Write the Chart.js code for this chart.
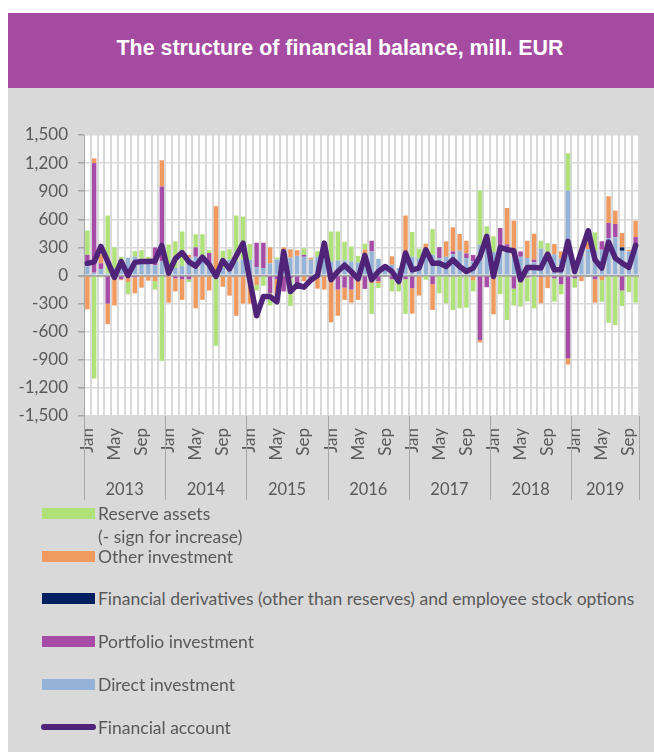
<!DOCTYPE html>
<html>
<head>
<meta charset="utf-8">
<script src="https://cdn.jsdelivr.net/npm/chart.js@4.4.1/dist/chart.umd.min.js"></script>
<style>
  body { margin:0; width:654px; height:752px; overflow:hidden; background:#fff; position:relative; font-family: Lato, sans-serif; }
  #header { position:absolute; left:8px; top:13px; width:664px; height:75px; background:#a54ca2; color:#fff;
            font: bold 21.4px "Liberation Sans", Arial, sans-serif; text-align:center; line-height:71px; }
  #panel { position:absolute; left:8px; top:88px; width:646px; height:664px; background:#d9d9d9; }
  #wrap { position:absolute; left:0; top:0; width:646px; height:420px; }
  .lg { position:absolute; left:90px; color:#595959; font-size:17.5px; line-height:23px; white-space:nowrap; }
  .sw { position:absolute; left:34px; width:53px; height:11px; }
  .ln { position:absolute; left:33px; width:55px; height:6px; border-radius:3px; }
</style>
</head>
<body>
<div id="header">The structure of financial balance, mill. EUR</div>
<div id="panel">
  <div id="wrap"><canvas id="chart" width="646" height="420"></canvas></div>
</div>
<script>
// month names and years for the x axis
const monthNames = ['Jan','Feb','Mar','Apr','May','Jun','Jul','Aug','Sep','Oct','Nov','Dec'];
const years = ['2013','2014','2015','2016','2017','2018','2019'];
const shownMonths = ['Jan','May','Sep'];

// mill. EUR, Jan 2013 - Oct 2019
const direct = [
  100, 30, 70, 20, 80, 130, 190, 200, 180, 130, 110, 150,
  30, 80, 100, 190, 200, 150, 100, 20, 80, 170, 150, 170,
  166, 90, 80, 130, 170, 180, 190, 210, 200, 170, 200, 170,
  150, 160, 160, 150, 140, 220, 257, 178, 70, 115, 80, 250,
  200, 180, 200, 220, 186, 200, 228, 264, 186, 150, 330, 320,
  250, 300, 293, 200, 200, 186, 140, 286, 220, 228, 180, 905,
  100, 280, 280, 260, 275, 400, 407, 264, 257, 321
];
const portfolio = [
  120, 1170, 60, -300, -20, -40, -10, -20, 0, 0, 190, 800,
  0, -30, -40, -40, 100, 50, 140, 0, 0, 0, 0, 0,
  0, 260, 270, -190, -40, -170, -30, -120, 20, -60, 0, 0,
  0, -150, -130, -150, 0, -143, 114, -60, 0, -40, -20, -40,
  -135, 0, 20, -93, 117, 0, 30, 0, 50, 70, -690, -125,
  0, 207, 40, -140, 57, -20, 30, -15, 0, -30, -93, -886,
  -30, 0, 0, -40, 90, 160, 143, -160, 0, 89
];
const derivatives = [
  0, 0, 0, 0, 0, 0, 0, 0, 0, 0, 0, 0,
  0, 0, 0, 0, 0, 0, 0, 0, 0, 0, 0, 0,
  0, 0, 0, 0, 0, 0, 0, 0, 0, 0, 0, 0,
  0, 0, 0, 0, 0, 0, 0, 0, 0, 0, 0, 0,
  0, 0, 0, 0, 0, 0, 0, 0, 0, 0, 0, 0,
  0, 0, 0, 0, 0, 0, 0, 0, 0, 0, 0, 0,
  0, 0, 0, 0, 0, 0, 0, 36, 0, 0
];
const other = [
  -360, 50, 90, -220, -300, -10, -60, -170, -130, -55, -60, 280,
  -290, -140, -220, 30, -350, -260, -160, 720, -120, -215, -430, -300,
  -300, -100, 0, 170, -180, 120, 90, 60, -60, 20, -140, -150,
  -500, -280, -130, -140, -260, 60, -80, -20, 0, 90, -40, 390,
  -272, -214, 120, -275, 0, 164, 256, 179, 135, -50, -24, 40,
  -414, 0, 388, 385, 0, 185, 276, -281, -135, 108, 77, -64,
  0, -60, 70, -250, -50, 286, 143, 153, 18, 175
];
const reserve = [
  260, -1100, -20, 620, 220, 70, -130, 60, 90, 70, -90, -910,
  300, 285, 370, -30, 140, 240, 30, -750, 185, 110, 490, 460,
  170, -60, -110, -130, 20, 0, -296, 0, 70, 0, 60, 160,
  320, 310, 200, 160, 70, 60, -330, -55, 20, -130, -110, -370,
  265, 105, -45, 276, -190, -296, -368, -350, -343, -120, 577, 165,
  168, -200, -475, -180, -332, -258, -350, 85, 126, -248, -107, 400,
  -100, 0, 130, 200, -230, -505, -530, -166, -178, -289
];
const financialAccount = [
  130, 145, 310, 150, -20, 150, 0, 140, 150, 150, 155, 320,
  25, 180, 245, 145, 100, 195, 115, -10, 160, 70, 210, 345,
  -50, -430, -225, -225, -280, 255, -170, -100, -125, -50, 0, 346,
  -46, 43, 110, 40, -36, 215, -46, 43, 96, 43, -64, 240,
  60, 79, 275, 132, 132, 96, 168, 96, 43, 79, 200, 418,
  -10, 300, 275, 264, -46, 86, 86, 79, 228, 61, 61, 364,
  43, 264, 478, 168, 79, 357, 186, 132, 86, 321
];

// x labels: one per month
const labels = financialAccount.map((v, i) => monthNames[i % 12]);

const datasets = [
  { label: 'Direct investment', data: direct, backgroundColor: '#95b3d7' },
  { label: 'Portfolio investment', data: portfolio, backgroundColor: '#a64ca6' },
  { label: 'Financial derivatives (other than reserves) and employee stock options', data: derivatives, backgroundColor: '#002060' },
  { label: 'Other investment', data: other, backgroundColor: '#f09a5f' },
  { label: 'Reserve assets', data: reserve, backgroundColor: '#b0e27a' }
].map(d => Object.assign(d, { type: 'bar', order: 1, barPercentage: 0.66, categoryPercentage: 1, stack: 'bars' }));

datasets.push({
  type: 'line', label: 'Financial account', data: financialAccount, order: 0, stack: 'line',
  borderColor: '#4e2378', borderWidth: 5.5, pointRadius: 0, tension: 0,
  borderJoinStyle: 'round', borderCapStyle: 'round'
});

// white plot area
const plotBg = {
  id: 'plotBg',
  beforeDraw(chart) {
    const { ctx, chartArea: a } = chart;
    ctx.save();
    ctx.fillStyle = '#ffffff';
    ctx.fillRect(a.left, a.top, a.right - a.left, a.bottom - a.top);
    ctx.restore();
  }
};

// year labels and separators under the months
const yearAxis = {
  id: 'yearAxis',
  afterDraw(chart) {
    const { ctx, chartArea: a, scales: { x } } = chart;
    const step = x.getPixelForValue(1) - x.getPixelForValue(0);
    const n = labels.length;
    ctx.save();
    ctx.strokeStyle = '#a6a6a6';
    ctx.lineWidth = 1;
    ctx.fillStyle = '#595959';
    ctx.font = '16.5px Lato';
    ctx.textAlign = 'center';
    ctx.textBaseline = 'middle';
    years.forEach((yr, k) => {
      const first = k * 12;
      const last = Math.min(first + 11, n - 1);
      const left = x.getPixelForValue(first) - step / 2;
      const right = x.getPixelForValue(last) + step / 2;
      [left, right].forEach(px => {
        const p = Math.round(px) + 0.5;
        ctx.beginPath();
        ctx.moveTo(p, a.bottom);
        ctx.lineTo(p, a.bottom + 84);
        ctx.stroke();
      });
      ctx.fillText(yr, (left + right) / 2, a.bottom + 74);
    });
    ctx.restore();
  }
};

new Chart(document.getElementById('chart'), {
  data: { labels: labels, datasets: datasets },
  plugins: [plotBg, yearAxis],
  options: {
    responsive: false,
    animation: false,
    layout: { padding: { top: 47, right: 15, bottom: 4, left: 0 } },
    plugins: { legend: { display: false }, tooltip: { enabled: false } },
    scales: {
      x: {
        stacked: true,
        offset: true,
        grid: { color: '#d9d9d9', lineWidth: 2, drawTicks: false, offset: true },
        border: { display: false },
        ticks: {
          autoSkip: false, minRotation: 90, maxRotation: 90, padding: 12,
          color: '#595959', font: { family: 'Lato', size: 17 },
          callback: function (val, index) {
            const m = this.getLabelForValue(val);
            return shownMonths.includes(m) ? m : '';
          }
        },
        afterFit: s => { s.height = 88; s.paddingLeft = 0; s.paddingRight = 0; }
      },
      y: {
        stacked: true,
        min: -1500, max: 1500,
        grid: {
          color: c => (c.tick && c.tick.value === 0) ? '#a6a6a6' : '#d9d9d9',
          lineWidth: c => (c.tick && c.tick.value === 0) ? 2 : 1.5,
          tickColor: '#a6a6a6', tickLength: 6
        },
        border: { color: '#a6a6a6', width: 1 },
        ticks: {
          stepSize: 300, padding: 10, color: '#595959', font: { family: 'Lato', size: 17 },
          callback: v => v.toLocaleString('en-US')
        },
        afterFit: s => { s.width = 76; }
      }
    }
  }
});

// legend, reversed order as in the original, built from the datasets
const panel = document.getElementById('panel');
const rows = [
  { ds: 4, center: 425, extra: '(- sign for increase)' },
  { ds: 3, center: 468 },
  { ds: 2, center: 510 },
  { ds: 1, center: 553 },
  { ds: 0, center: 596 },
  { ds: 5, center: 639 }
];
rows.forEach(r => {
  const d = datasets[r.ds];
  const t = document.createElement('div');
  t.className = 'lg';
  t.style.top = (r.center - 11.5) + 'px';
  t.innerHTML = d.label + (r.extra ? '<br>' + r.extra : '');
  panel.appendChild(t);
  const s = document.createElement('div');
  if (d.type === 'line') {
    s.className = 'ln';
    s.style.top = (r.center - 3) + 'px';
    s.style.background = d.borderColor;
  } else {
    s.className = 'sw';
    s.style.top = (r.center - 5.5) + 'px';
    s.style.background = d.backgroundColor;
  }
  panel.appendChild(s);
});
</script>
</body>
</html>
